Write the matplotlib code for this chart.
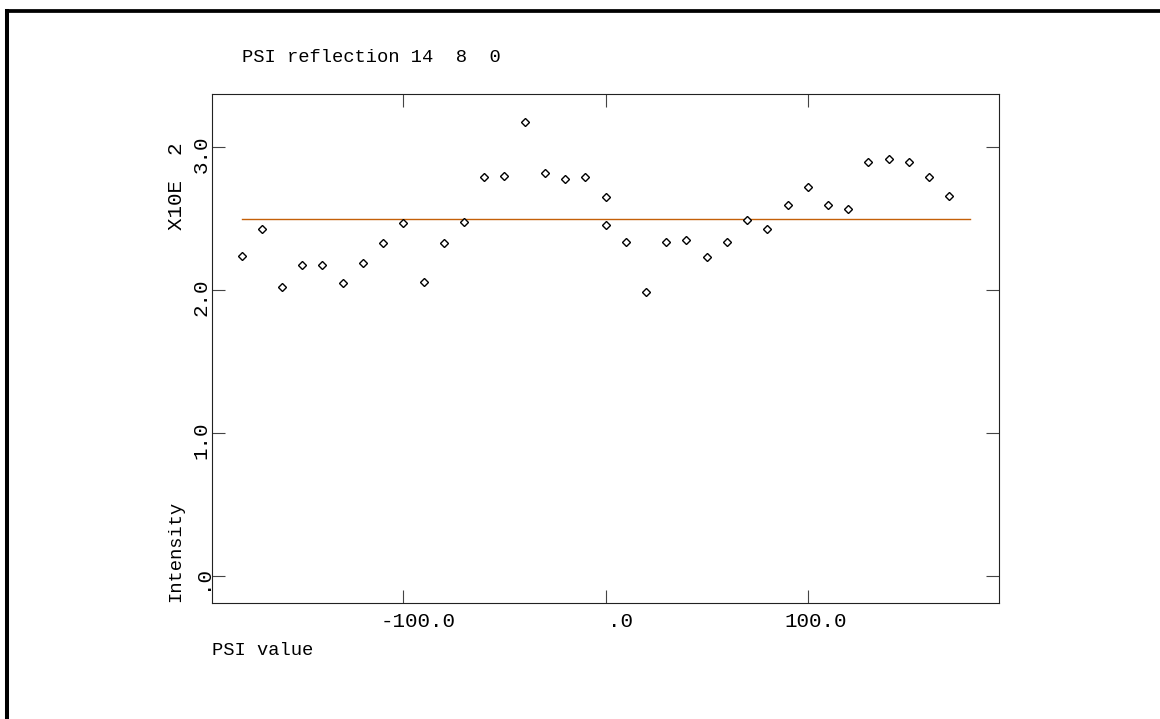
import numpy as np
import matplotlib.pyplot as plt
from matplotlib.lines import Line2D
from matplotlib.transforms import ScaledTranslation

# valores: psi (grados) e intensidad (en unidades x10E 2)
psi = [-180, -170, -160, -150, -140, -130, -120, -110, -100, -90, -80, -70,
       -60, -50, -40, -30, -20, -10, 0, 0, 10, 20, 30, 40, 50, 60, 70, 80,
       90, 100, 110, 120, 130, 140, 150, 160, 170]
intensidad = [2.24, 2.43, 2.02, 2.18, 2.18, 2.05, 2.19, 2.33, 2.47, 2.06, 2.33, 2.48,
              2.79, 2.80, 3.18, 2.82, 2.78, 2.79, 2.65, 2.46, 2.34, 1.99, 2.34, 2.35,
              2.23, 2.34, 2.49, 2.43, 2.60, 2.72, 2.60, 2.57, 2.90, 2.92, 2.90, 2.79,
              2.66]

# linea del promedio
psi_linea = [-180, 180]
int_linea = [2.50, 2.50]

xticks = [-100, 0, 100]
xticklabels = ['-100.0', '  .0', '100.0']
yticks = [0, 1, 2, 3]
yticklabels = ['.0', '1.0', '2.0', '3.0']

plt.rcParams['font.family'] = ['Liberation Mono', 'DejaVu Sans Mono']

fig = plt.figure(figsize=(11.6, 7.19), dpi=100)
ax = fig.add_axes([0.1830, 0.1609, 0.6779, 0.7079])

ax.plot(psi_linea, int_linea, color='#c46008', lw=1.0)
ax.plot(psi, intensidad, ls='none', marker='D', ms=3.7, mfc='white',
        mec='black', mew=1.0)

ax.set_xlim(-194.5, 194.4)
ax.set_ylim(-0.191, 3.371)

for s in ax.spines.values():
    s.set_linewidth(0.8)
    s.set_color('#222222')

ax.tick_params(axis='both', direction='in', length=9.4, width=0.8, color='#444444',
               top=True, right=True, labelsize=15)
ax.tick_params(axis='x', pad=17.3)
ax.tick_params(axis='y', pad=4.0)

ax.set_xticks(xticks, xticklabels, ha='left', va='baseline')
ax.set_yticks(yticks, yticklabels, rotation=90, rotation_mode='anchor',
              ha='right', va='baseline')

# corrimiento de las etiquetas (estilo del grafico original)
dx = ScaledTranslation(-23 / 100, 0, fig.dpi_scale_trans)
for lab in ax.get_xticklabels():
    lab.set_transform(lab.get_transform() + dx)
dy = ScaledTranslation(0, 11.5 / 100, fig.dpi_scale_trans)
for lab in ax.get_yticklabels():
    lab.set_transform(lab.get_transform() + dy)

# titulo y rotulos
ax.text(0.0384, 1.064, 'PSI reflection 14  8  0', transform=ax.transAxes,
        fontsize=13.5, ha='left', va='baseline')
ax.set_xlabel('PSI value', fontsize=13.5, ha='left', va='baseline')
ax.xaxis.set_label_coords(0.0, -0.1016)
ax.set_ylabel('Intensity', fontsize=13.5, ha='left', va='baseline',
              rotation=90, rotation_mode='anchor')
ax.yaxis.set_label_coords(-0.0405, 0.003)
ax.text(-0.0389, 0.7334, 'X10E  2', transform=ax.transAxes, fontsize=15,
        rotation=90, rotation_mode='anchor', ha='left', va='baseline')

# marco grueso de la pagina
x0 = 7 / 1160
y0 = 1 - 11 / 719
fig.add_artist(Line2D([x0, x0], [-0.05, y0], color='black', lw=2.9,
                      solid_capstyle='projecting'))
fig.add_artist(Line2D([x0, 1.05], [y0, y0], color='black', lw=2.7,
                      solid_capstyle='projecting'))

fig.savefig('out.png', dpi=100)
